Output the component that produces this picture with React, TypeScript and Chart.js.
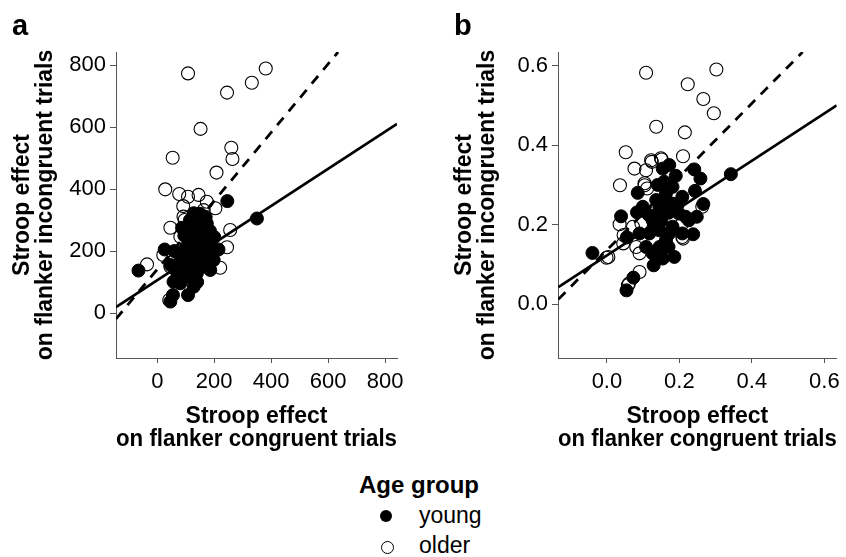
import React, { useEffect, useRef } from "react";
import { Chart, registerables } from "chart.js";

Chart.register(...registerables);

const FONT = '"Liberation Sans", Arial, Helvetica, sans-serif';

// ---------- Panel a (ms) ----------
const youngA: [number, number][] = [
  [-66, 137], [26, 205], [246, 361], [350, 305], [128, 322], [163, 300], [87, 275], [174, 289],
  [215, 205], [186, 139], [57, 101], [55, 58], [46, 37], [108, 58], [128, 85], [81, 182],
  [46, 155], [151, 214], [116, 193], [174, 182], [151, 160], [104, 149], [139, 128], [198, 171],
  [151, 257], [116, 235], [104, 117], [81, 96], [174, 225], [140, 310], [150, 280], [120, 270],
  [100, 210], [130, 170], [160, 240], [180, 200], [90, 160], [70, 130], [140, 100], [120, 140],
  [165, 150], [200, 200], [135, 200], [110, 240], [150, 320], [170, 310], [115, 300], [185, 265],
  [200, 245], [95, 250], [60, 200],
];
const olderA: [number, number][] = [
  [108, 773], [381, 789], [332, 743], [245, 711], [152, 594], [260, 533], [264, 497], [54, 501],
  [208, 453], [28, 399], [77, 384], [108, 375], [91, 345], [145, 381], [174, 359], [204, 338],
  [163, 332], [46, 275], [256, 268], [96, 300], [186, 252], [245, 212], [221, 146], [-36, 157],
  [46, 149], [42, 42], [92, 311], [81, 246], [21, 187], [150, 290], [130, 230], [170, 270],
  [110, 190], [195, 200], [60, 170], [140, 160], [120, 250], [175, 215],
];
const solidA: [number, number][] = [[-145, 19], [842, 610]];
const dashedA: [number, number][] = [[-145, -19], [635, 842]];
const ticksA = [0, 200, 400, 600, 800];
const rangeA: [number, number] = [-145, 842];

// ---------- Panel b (proportion) ----------
const youngB: [number, number][] = [
  [-0.04, 0.129], [0.054, 0.035], [0.073, 0.067], [0.039, 0.221], [0.055, 0.168], [0.083, 0.231],
  [0.085, 0.28], [0.342, 0.327], [0.241, 0.339], [0.258, 0.316], [0.243, 0.285], [0.266, 0.252],
  [0.248, 0.22], [0.238, 0.176], [0.186, 0.119], [0.17, 0.144], [0.129, 0.098], [0.154, 0.115],
  [0.172, 0.35], [0.154, 0.341], [0.19, 0.323], [0.208, 0.27], [0.181, 0.253], [0.163, 0.279],
  [0.145, 0.237], [0.126, 0.211], [0.117, 0.178], [0.145, 0.186], [0.181, 0.195], [0.217, 0.22],
  [0.199, 0.228], [0.163, 0.161], [0.108, 0.144], [0.126, 0.128], [0.136, 0.262], [0.099, 0.245],
  [0.09, 0.178], [0.158, 0.308], [0.226, 0.211], [0.208, 0.178], [0.145, 0.144], [0.172, 0.178],
  [0.181, 0.295], [0.15, 0.21], [0.13, 0.19], [0.17, 0.23], [0.14, 0.3], [0.195, 0.25],
  [0.115, 0.225], [0.165, 0.26],
];
const olderB: [number, number][] = [
  [0.108, 0.582], [0.302, 0.59], [0.223, 0.553], [0.266, 0.516], [0.295, 0.48], [0.136, 0.446],
  [0.215, 0.432], [0.052, 0.382], [0.21, 0.372], [0.076, 0.341], [0.108, 0.337], [0.124, 0.358],
  [0.151, 0.364], [0.036, 0.299], [0.104, 0.299], [0.111, 0.291], [0.035, 0.201], [0.072, 0.195],
  [0.046, 0.174], [0.045, 0.153], [-0.001, 0.117], [0.09, 0.128], [0.09, 0.081], [0.061, 0.052],
  [0.21, 0.165], [0.263, 0.245], [0.208, 0.203], [0.145, 0.253], [0.126, 0.228], [0.081, 0.144],
  [0.104, 0.304], [0.095, 0.203], [0.004, 0.119], [0.058, 0.048], [0.208, 0.169], [0.149, 0.367],
  [0.122, 0.362],
];
const solidB: [number, number][] = [[-0.134, 0.043], [0.634, 0.5]];
const dashedB: [number, number][] = [[-0.134, 0.0126], [0.54, 0.634]];
const ticksB = [0, 0.2, 0.4, 0.6];
const rangeB: [number, number] = [-0.135, 0.634];

const xTitle = ["Stroop effect", "on flanker congruent trials"];
const yTitle = ["Stroop effect", "on flanker incongruent trials"];
const legendTitle = "Age group";
const groupNames = ["young", "older"];

const CANVAS_H = 470;

type PanelProps = {
  left: number;
  width: number;
  padRight: number;
  young: [number, number][];
  older: [number, number][];
  solid: [number, number][];
  dashed: [number, number][];
  ticks: number[];
  range: [number, number];
  decimals: number;
};

function Panel(p: PanelProps) {
  const ref = useRef<HTMLCanvasElement>(null);
  useEffect(() => {
    const toPts = (a: [number, number][]) => a.map(([x, y]) => ({ x, y }));
    const axisColor = "#555";
    const tickFont = { family: FONT, size: 22 };
    const titleFont = { family: FONT, size: 23, weight: "bold" as const, lineHeight: 1 };
    const fmt = (v: any) => Number(v).toFixed(p.decimals);
    const chart = new Chart(ref.current!, {
      type: "scatter",
      data: {
        datasets: [
          {
            type: "line",
            data: toPts(p.solid),
            borderColor: "#000",
            borderWidth: 2.6,
            pointRadius: 0,
            showLine: true,
            fill: false,
            order: 0,
          } as any,
          {
            type: "line",
            data: toPts(p.dashed),
            borderColor: "#000",
            borderWidth: 2.8,
            borderDash: [10, 8],
            pointRadius: 0,
            showLine: true,
            fill: false,
            order: 0,
          } as any,
          {
            data: toPts(p.young),
            pointRadius: 6.5,
            pointBackgroundColor: "#000",
            pointBorderColor: "#000",
            pointBorderWidth: 1,
            order: 1,
          },
          {
            data: toPts(p.older),
            pointRadius: 6.5,
            pointBackgroundColor: "rgba(0,0,0,0)",
            pointBorderColor: "#000",
            pointBorderWidth: 1.1,
            order: 2,
          },
        ],
      },
      options: {
        animation: false,
        responsive: false,
        events: [],
        layout: { padding: { top: 52, right: p.padRight, left: 0, bottom: 0 } },
        plugins: { legend: { display: false }, tooltip: { enabled: false } },
        scales: {
          x: {
            type: "linear",
            min: p.range[0],
            max: p.range[1],
            afterBuildTicks: (s: any) => {
              s.ticks = p.ticks.map((v) => ({ value: v }));
            },
            afterFit: (s: any) => {
              s.height = 112;
            },
            ticks: { font: tickFont, color: "#000", padding: 6, maxRotation: 0, autoSkip: false, callback: fmt },
            grid: { display: true, drawOnChartArea: false, drawTicks: true, tickLength: 5, color: axisColor, lineWidth: 1 },
            border: { display: true, color: axisColor, width: 1 },
            title: { display: true, text: xTitle, font: titleFont, color: "#000", padding: { top: 0, bottom: 18.5 } },
          },
          y: {
            type: "linear",
            min: p.range[0],
            max: p.range[1],
            afterBuildTicks: (s: any) => {
              s.ticks = p.ticks.map((v) => ({ value: v }));
            },
            afterFit: (s: any) => {
              s.width = 116;
            },
            ticks: { font: tickFont, color: "#000", padding: 4, autoSkip: false, callback: fmt },
            grid: { display: true, drawOnChartArea: false, drawTicks: true, tickLength: 6, color: axisColor, lineWidth: 1 },
            border: { display: true, color: axisColor, width: 1 },
            title: { display: true, text: yTitle, font: titleFont, color: "#000", padding: { top: 11, bottom: 0 } },
          },
        },
      } as any,
    });
    return () => chart.destroy();
  }, []);
  return (
    <canvas
      ref={ref}
      width={p.width}
      height={CANVAS_H}
      style={{ position: "absolute", left: p.left, top: 0, width: p.width, height: CANVAS_H }}
    />
  );
}

const textBase: React.CSSProperties = {
  position: "absolute",
  fontFamily: FONT,
  color: "#000",
  whiteSpace: "nowrap",
};

export default function App() {
  return (
    <div style={{ position: "fixed", left: 0, top: 0, width: 846, height: 557, background: "#fff", overflow: "hidden" }}>
      <Panel left={0} width={420} padRight={23} young={youngA} older={olderA} solid={solidA} dashed={dashedA} ticks={ticksA} range={rangeA} decimals={0} />
      <Panel left={442} width={404} padRight={7} young={youngB} older={olderB} solid={solidB} dashed={dashedB} ticks={ticksB} range={rangeB} decimals={1} />
      <div style={{ ...textBase, left: 12, top: 10.5, fontSize: 29, lineHeight: "29px", fontWeight: "bold" }}>a</div>
      <div style={{ ...textBase, left: 454, top: 10.5, fontSize: 29, lineHeight: "29px", fontWeight: "bold" }}>b</div>
      <div style={{ ...textBase, left: 359, top: 472.5, fontSize: 24, lineHeight: "24px", fontWeight: "bold" }}>{legendTitle}</div>
      <div style={{ position: "absolute", left: 380, top: 510, width: 12, height: 12, borderRadius: "50%", background: "#000" }} />
      <div style={{ ...textBase, left: 419, top: 503.5, fontSize: 23, lineHeight: "23px" }}>{groupNames[0]}</div>
      <div style={{ position: "absolute", left: 380.5, top: 540.5, width: 11, height: 11, borderRadius: "50%", border: "1px solid #000", boxSizing: "content-box" }} />
      <div style={{ ...textBase, left: 419, top: 533.5, fontSize: 23, lineHeight: "23px" }}>{groupNames[1]}</div>
    </div>
  );
}
